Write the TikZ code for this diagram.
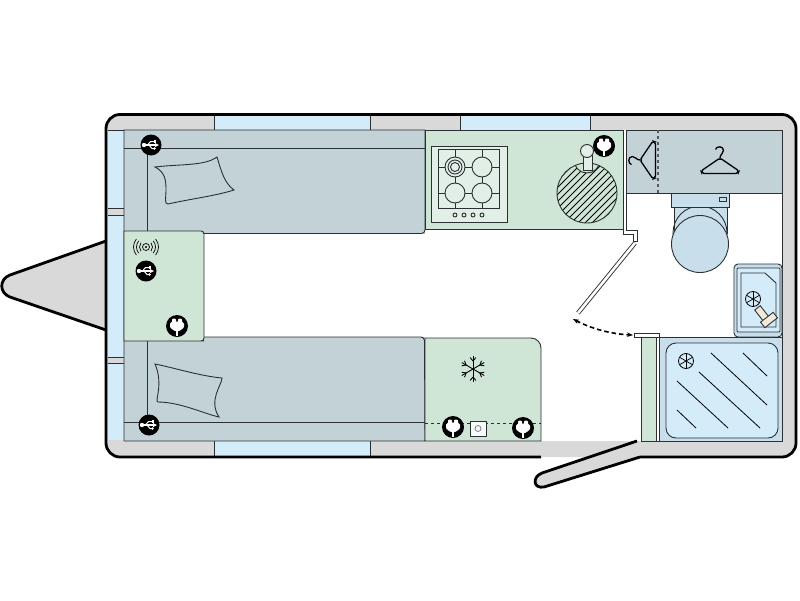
\documentclass[tikz,border=0pt]{standalone}
\usepackage{tikz}
\usetikzlibrary{arrows.meta,calc}
\definecolor{shellgrey}{HTML}{D9D9D9}
\definecolor{glassblue}{HTML}{D4EBFA}
\definecolor{bedgrey}{HTML}{C3D2D6}
\definecolor{topgreen}{HTML}{CFE5D6}
\definecolor{wetblue}{HTML}{C8DFEB}
\definecolor{inkline}{HTML}{2B3033}
\definecolor{tapcream}{HTML}{F1EADB}
\tikzset{
	part/.style = {draw=inkline, line width=0.9pt},
	wall/.style = {draw=black, line width=2.8pt, line join=round},
	usbicon/.pic = {
		\fill[black] (0,0) circle (10.5);
		\fill[white] (-7,0) circle (2.2);
		\draw[white, line width=1.1pt] (-7,0) -- (5,0);
		\fill[white] (8,0) -- (4,-2) -- (4,2) -- cycle;
		\draw[white, line width=1pt] (-3.5,0) -- (-0.5,-3.5) -- (3,-3.5);
		\fill[white] (2.5,-5) rectangle (5,-2.5);
		\draw[white, line width=1pt] (-2,0) -- (1,3.5) -- (3,3.5);
		\fill[white] (3.5,3.5) circle (1.3);
	},
	plugicon/.pic = {
		\fill[black] (0,0) circle (11);
		\fill[white, rounded corners=1pt] (-5,-7.5) -- (-1,-7.5) -- (-1,-4) -- (1,-4) -- (1,-7.5) -- (5,-7.5) -- (5,-3.5) -- (7,-3.5) -- (7,1.5) -- (2.5,5) -- (-2.5,5) -- (-7,1.5) -- (-7,-3.5) -- (-5,-3.5) -- cycle;
		\fill[white] (-1.3,4) rectangle (1.3,9.5);
	},
	hangericon/.pic = {
		\draw[black, line width=1.3pt, line join=round] (-4.5,-8.5) .. controls (-4,-12) and (3.5,-12.5) .. (3.5,-7.5) .. controls (3.5,-4) and (0,-4) .. (0,0);
		\draw[black, line width=1.3pt, rounded corners=2pt] (0,0) -- (-19,13) -- (-18,15.5) -- (18,15.5) -- (19,13) -- cycle;
	},
	drainicon/.pic = {
		\draw[black, line width=0.8pt] (0,0) circle (7.5);
		\foreach \a in {0,60,...,300} \draw[black, line width=0.7pt] (0,0) -- (\a+30:7.5);
	}
}
\begin{document}
\begin{tikzpicture}[x=1pt, y=-1pt]
	\useasboundingbox (0,0) rectangle (800,600);
	\fill[white] (0,0) rectangle (800,600);
	% drawbar
	\draw[wall, fill=shellgrey] (106,241) -- (10,275) .. controls (-1,279) and (-1,293) .. (10,297) -- (106,330);
	% shell
	\fill[shellgrey, rounded corners=14pt] (106,114.5) rectangle (796,457);
	\fill[white] (124,130) rectangle (782,441);
	\fill[glassblue] (214,116) rectangle (370,130);
	\fill[glassblue] (460,116) rectangle (590,130);
	\fill[glassblue] (214,441) rectangle (370,455.5);
	\draw[part] (214,116) -- (214,130) (370,116) -- (370,130) (460,116) -- (460,130) (590,116) -- (590,130);
	\draw[part] (214,441) -- (214,455.5) (370,441) -- (370,455.5);
	\draw[wall, rounded corners=14pt] (541,457) -- (106,457) -- (106,114.5) -- (796,114.5) -- (796,457) -- (640,457);
	\fill[white] (590,457.5) -- (640,457.5) -- (640,470) -- (580,470) -- cycle;
	% end windows
	\fill[glassblue] (108,130) rectangle (124,440);
	\fill[shellgrey] (108,208) rectangle (124,215);
	\fill[shellgrey] (108,357) rectangle (124,363);
	\draw[part] (108,130) -- (124,130) (108,208) -- (124,208) (108,215) -- (124,215) (108,357) -- (124,357) (108,363) -- (124,363);
	% beds
	\fill[bedgrey] (124,130) rectangle (425,234);
	\fill[bedgrey] (124,337) rectangle (425,441);
	\draw[part] (124,441) -- (124,130) -- (425,130) -- (425,230) arc (0:90:3.5) -- (204,233.5);
	\draw[part] (204,337) -- (421,337) arc (-90:0:3.5) -- (425,441) -- (124,441);
	\draw[part] (124,148) -- (425,148) (147,148) -- (147,231);
	\draw[part] (124,422) -- (425,422) (147,341) -- (147,422);
	\draw[part, fill=bedgrey] (155,167) .. controls (180,164) and (205,166) .. (217,157) .. controls (221,170) and (224,183) .. (234,190) .. controls (215,196) and (190,199) .. (168,204) .. controls (164,204) and (166,198) .. (166,190) .. controls (166,180) and (165,172) .. (155,167) -- cycle;
	\draw[part, fill=bedgrey] (155,364) .. controls (175,368) and (200,376) .. (222,378) .. controls (222,385) and (208,400) .. (219,417) .. controls (205,414) and (180,402) .. (158,402) .. controls (154,402) and (164,385) .. (155,364) -- cycle;
	% front table
	\filldraw[part, fill=topgreen, rounded corners=3pt] (124,231) [sharp corners] -- (201,231) [rounded corners=3pt] -- (204,231) -- (204,341) -- (201,341) [sharp corners] -- (124,341) -- cycle;
	\foreach \r in {6.5,9.5,12.5} {
		\draw[black, line width=0.7pt] ([shift={(-40:\r)}]146,247) arc (-40:40:\r);
		\draw[black, line width=0.7pt] ([shift={(140:\r)}]146,247) arc (140:220:\r);
	}
	\draw[black, line width=0.7pt] (146,247) circle (3.5);
	\fill[black] (146,247) circle (1.2);
	% kitchen
	\filldraw[part, fill=topgreen] (425,130) rectangle (623,229);
	\filldraw[part, fill=topgreen!60!white] (431,146) rectangle (507,222);
	\draw[part] (438,149) rectangle (499,208);
	\draw[part] (455,149) -- (455,208) (482,149) -- (482,208) (438,167) -- (499,167) (438,193) -- (499,193);
	\foreach \px in {455,482} \foreach \py in {167,193} \filldraw[part, fill=topgreen!60!white] (\px,\py) circle (10);
	\draw[part] (455,167) circle (7) (455,167) circle (4.5);
	\foreach \px in {455,464,473,482} \draw[part] (\px,215) circle (2);
	\begin{scope}
		\clip (587,193) circle (30);
		\foreach \c in {738,745,...,822} \draw[black, line width=0.9pt] (540,{\c-540}) -- (640,{\c-640});
		\filldraw[part, fill=topgreen] (587,160) circle (13);
	\end{scope}
	\draw[part] (587,193) circle (30);
	\filldraw[part, fill=topgreen!60!white] (583,155) rectangle (592,170);
	\filldraw[part, fill=topgreen!60!white] (587,151) circle (6.5);
	% wardrobe
	\filldraw[part, fill=bedgrey] (626,130) rectangle (782,193);
	\draw[inkline!80, line width=1.1pt, dash pattern=on 3pt off 3pt] (658,130) -- (658,193);
	\pic at (720,158) {hangericon};
	\pic[rotate=90] at (640,160) {hangericon};
	% washroom wall
	\draw[part] (782,193) -- (782,441);
	\draw[part] (626,193) -- (626,230);
	\draw[part] (623,229) -- (623,234.5) -- (633,234.5) -- (633,241) -- (637,241) -- (637,230.5) -- (626,230.5);
	\draw[inkline, line width=0.9pt, double=white, double distance=2.6pt] (578,313) -- (635,243);
	% toilet
	\filldraw[part, fill=wetblue] (674,207) rectangle (727,233);
	\begin{scope}
		\clip (670,207) rectangle (730,240);
		\draw[part] (700,233) circle (27);
	\end{scope}
	\filldraw[part, fill=wetblue] (671,193) rectangle (729,207);
	\draw[part] (719,197) rectangle (726,201);
	\filldraw[part, fill=wetblue] (700,244) circle (28.5);
	% basin
	\filldraw[part, fill=wetblue, rounded corners=4pt] (782,264) -- (734,264) -- (734,337) -- (782,337) -- cycle;
	\filldraw[part, fill=glassblue, rounded corners=1pt] (737,268) rectangle (780,332);
	\draw[part] (741,273) -- (765,273) -- (776,283) -- (776,327) -- (741,327) -- cycle;
	\pic at (753,299) {drainicon};
	\filldraw[part, fill=tapcream, rotate around={38:(763,315)}] (759.5,306) rectangle (766.5,324);
	\filldraw[part, fill=tapcream, rotate around={38:(769,320)}] (761,316.5) rectangle (777,323.5);
	% shower
	\filldraw[part, fill=wetblue] (659,337) rectangle (782,441);
	\filldraw[part, fill=glassblue, rounded corners=10pt] (666,343) rectangle (778,438);
	\draw[black, line width=0.8pt] (677,381) -- (728,428) (699,372) -- (760,428) (711,353) -- (767,405) (743,353) -- (767,376) (677,410) -- (696,428);
	\pic at (686,361) {drainicon};
	\fill[topgreen] (641,337) rectangle (656,441);
	\draw[part] (641,337) -- (641,441) (656,337) -- (656,441) (659,337) -- (659,441) (641,441) -- (659,441);
	\filldraw[part, fill=white] (634,333) -- (659,333) -- (659,337) -- (634,337) -- cycle;
	\draw[black, line width=1.6pt, dash pattern=on 4.5pt off 3pt, {Stealth[length=6pt]}-{Stealth[length=6pt]}] (573,319) .. controls (590,328) and (610,334) .. (633,335);
	% fridge unit
	\fill[topgreen, rounded corners=10pt] (425,338) -- (531,338) -- (541,338) -- (541,441) -- (425,441) [sharp corners] -- cycle;
	\fill[topgreen] (425,338) rectangle (500,441) (500,360) rectangle (541,441);
	\draw[part] (425,441) -- (425,338) -- (531,338) arc (-90:0:10) -- (541,441) -- cycle;
	\foreach \a in {0,60,...,300} {
		\draw[black, line width=0.9pt] (473,369) -- ++(\a+90:13);
		\draw[black, line width=0.9pt] ($(473,369)+(\a+90:8)$) -- ++(\a+50:4.5);
		\draw[black, line width=0.9pt] ($(473,369)+(\a+90:8)$) -- ++(\a+130:4.5);
	}
	\draw[inkline, line width=0.9pt, dashed] (425,423) -- (541,423);
	\filldraw[part, fill=white!85!topgreen] (470,421) rectangle (486,436);
	\draw[gray, line width=0.8pt] (478,428.5) circle (3);
	% door
	\fill[shellgrey] (541,441.5) rectangle (640,457);
	\draw[wall, fill=shellgrey] (637,441) -- (542,473) .. controls (532,477) and (533,489) .. (544,487) -- (640,457);
	\draw[wall] (639,457) -- (650,457);
	% sockets
	\pic at (151,145) {usbicon};
	\pic at (146,271) {usbicon};
	\pic at (149,425) {usbicon};
	\pic at (177,326) {plugicon};
	\pic at (604,146) {plugicon};
	\pic at (453,427) {plugicon};
	\pic at (523,428) {plugicon};
\end{tikzpicture}
\end{document}
